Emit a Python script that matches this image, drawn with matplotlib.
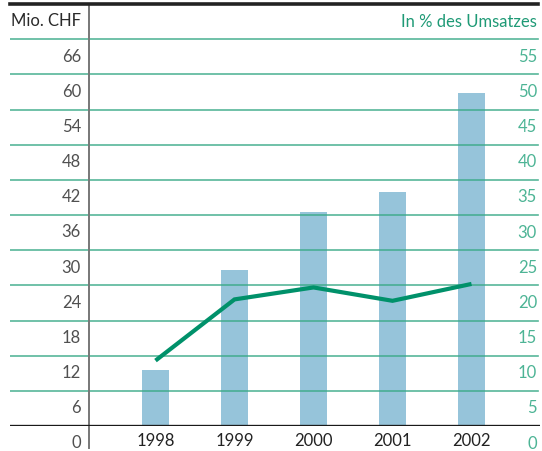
import matplotlib
matplotlib.use("Agg")
import matplotlib.pyplot as plt
import matplotlib.transforms as mtransforms

years = ["1998", "1999", "2000", "2001", "2002"]
mio_chf = [9.6, 26.6, 36.5, 39.9, 56.9]
pct_umsatz = [9.3, 18.0, 19.7, 17.8, 20.2]
left_ticks = [0, 6, 12, 18, 24, 30, 36, 42, 48, 54, 60, 66]
right_ticks = [0, 5, 10, 15, 20, 25, 30, 35, 40, 45, 50, 55]
left_title = "Mio. CHF"
right_title = "In % des Umsatzes"

W, H = 542, 452
plt.rcParams['font.family'] = ['Lato', 'DejaVu Sans']

fig = plt.figure(figsize=(W / 100, H / 100), dpi=100)
# axes spans pixel x 10..540, y 5 (top=72) .. 427 (bottom=0)
ax = fig.add_axes([10 / W, (H - 427) / H, 530 / W, 422 / H])
ax.set_ylim(0, 72)
x0 = (10 - 155.5) / 79
x1 = (540 - 155.5) / 79
ax.set_xlim(x0, x1)
for s in ax.spines.values():
    s.set_visible(False)
ax.set_xticks([])
ax.set_yticks([])

ax2 = ax.twinx()
ax2.set_ylim(0, 60)
for s in ax2.spines.values():
    s.set_visible(False)
ax2.set_yticks([])

xs = list(range(len(years)))
bar_col = "#96c4da"
grid_col = "#3aaa88"
line_col = "#00916a"

ax.bar(xs, mio_chf, width=0.34, color=bar_col, zorder=1)

for v in left_ticks[1:]:
    ax.axhline(v, xmin=0, xmax=0.996, color=grid_col, lw=1.2, alpha=0.85, zorder=2)

ax.axhline(0, xmin=0, xmax=0.996, color="#1a1a1a", lw=2.4, zorder=4)
ax.axhline(72, xmin=0, xmax=0.996, color="#222222", lw=2.6, zorder=4, clip_on=False)

ax2.plot(xs, pct_umsatz, color=line_col, lw=3.0, solid_capstyle="butt",
         solid_joinstyle="miter", zorder=5)

# vertical separator
bt = mtransforms.blended_transform_factory(fig.transFigure, ax.transData)
ax.plot([89 / W, 89 / W], [-3.7, 71.6], transform=bt, color="#777777", lw=1.4,
        clip_on=False, zorder=3)

fs = 12
for v in left_ticks:
    ax.text(81 / W, v - 2.8, str(v), transform=bt, ha="right", va="center",
            fontsize=fs, color="#505050")
ax.text(81 / W, 69.2, left_title, transform=bt, ha="right", va="center",
        fontsize=fs, color="#2a2a2a")

bt2 = mtransforms.blended_transform_factory(fig.transFigure, ax2.transData)
for v in right_ticks:
    ax2.text(537 / W, v - 2.35, str(v), transform=bt2, ha="right", va="center",
             fontsize=fs, color="#4db495")
ax2.text(537 / W, 57.6, right_title, transform=bt2, ha="right", va="center",
         fontsize=fs, color="#1f9a76")

for i, y in enumerate(years):
    ax.text(i, -2.4, y, ha="center", va="center", fontsize=fs, color="#222222")

fig.savefig("out.png", dpi=100)
